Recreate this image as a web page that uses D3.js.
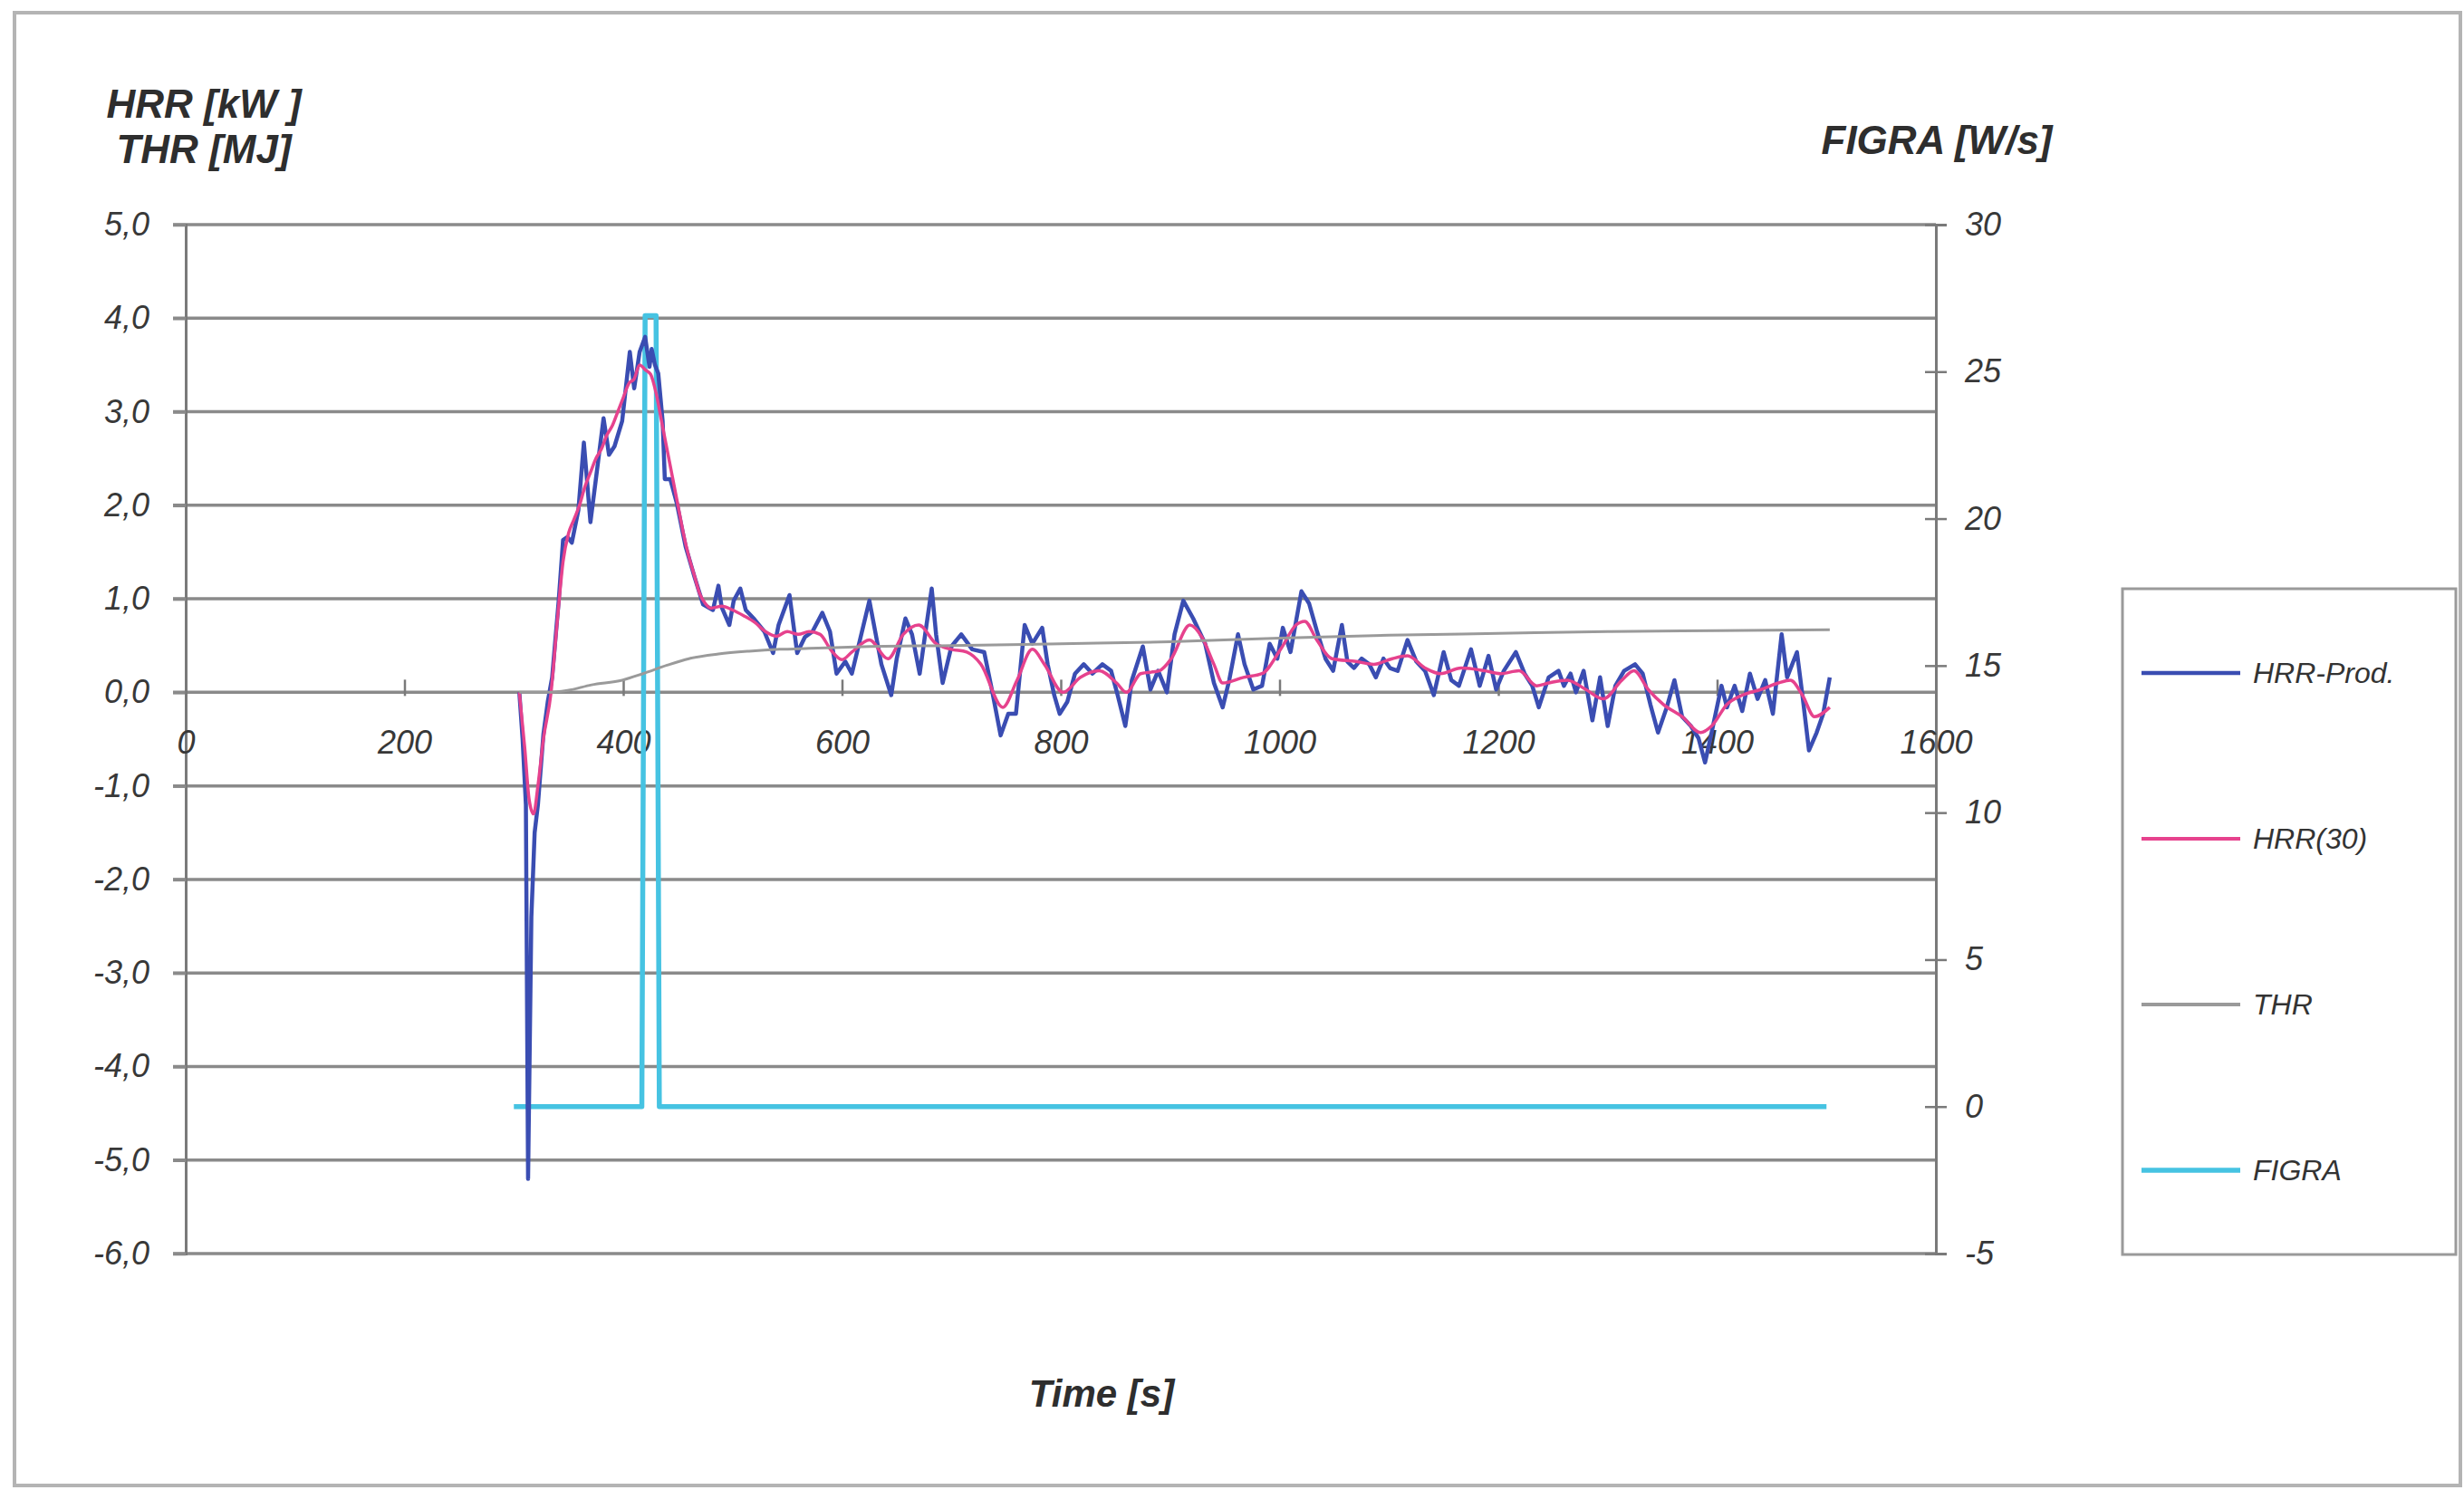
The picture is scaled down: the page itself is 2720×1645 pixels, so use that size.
<!DOCTYPE html>
<html>
<head>
<meta charset="utf-8">
<script src="https://cdn.jsdelivr.net/npm/d3@7"></script>
<style>
  html, body { margin: 0; padding: 0; background: #fff; }
  svg { display: block; }
  text { font-family: "Liberation Sans", Arial, sans-serif; }
</style>
</head>
<body>
<div id="chart"></div>
<script>
// HRR-Prod. [kW] (raw)
const hrrTime = [305, 308, 311, 313, 316, 319, 322, 327, 331, 335, 341, 345, 349, 353, 359, 364, 370, 375, 382, 387,
  392, 399, 406, 410, 415, 420, 424, 426, 429, 432, 436, 438, 443, 449, 457, 465, 473, 482, 487, 490,
  497, 501, 507, 512, 520, 529, 537, 542, 552, 559, 566, 573, 582, 589, 595, 603, 609, 617, 625, 636,
  645, 650, 658, 664, 671, 676, 682, 686, 692, 700, 709, 719, 730, 738, 745, 752, 759, 767, 774, 783,
  788, 794, 799, 806, 813, 821, 829, 838, 846, 852, 859, 865, 875, 882, 889, 897, 904, 912, 921, 932,
  940, 948, 954, 962, 968, 976, 984, 991, 998, 1003, 1010, 1020, 1027, 1034, 1042, 1049, 1057, 1062, 1068, 1075,
  1082, 1088, 1095, 1101, 1108, 1117, 1125, 1133, 1141, 1150, 1157, 1164, 1175, 1183, 1191, 1198, 1205, 1216, 1224, 1231,
  1237, 1246, 1255, 1260, 1266, 1271, 1278, 1286, 1293, 1300, 1307, 1315, 1325, 1332, 1339, 1346, 1354, 1361, 1368, 1376,
  1383, 1389, 1395, 1404, 1409, 1416, 1423, 1430, 1437, 1444, 1451, 1459, 1464, 1473, 1478, 1484, 1491, 1497, 1503];
const hrrProd = [0, -0.5, -1.2, -5.2, -2.4, -1.5, -1.2, -0.45, -0.1, 0.16, 0.98, 1.63, 1.66, 1.6, 1.95, 2.67, 1.82, 2.28, 2.93, 2.54,
  2.63, 2.9, 3.64, 3.25, 3.64, 3.8, 3.48, 3.67, 3.5, 3.41, 2.9, 2.28, 2.28, 2.02, 1.56, 1.24, 0.94, 0.88, 1.14, 0.91,
  0.72, 0.98, 1.11, 0.88, 0.78, 0.65, 0.42, 0.72, 1.04, 0.42, 0.59, 0.65, 0.85, 0.65, 0.2, 0.33, 0.2, 0.59, 0.98, 0.3,
  -0.03, 0.36, 0.79, 0.62, 0.2, 0.62, 1.11, 0.62, 0.1, 0.49, 0.62, 0.46, 0.43, -0.03, -0.46, -0.23, -0.23, 0.72, 0.52, 0.69,
  0.3, -0.03, -0.23, -0.1, 0.2, 0.3, 0.2, 0.3, 0.23, -0.03, -0.36, 0.13, 0.49, 0.03, 0.23, 0, 0.62, 0.98, 0.79, 0.52,
  0.1, -0.16, 0.13, 0.62, 0.3, 0.03, 0.07, 0.52, 0.36, 0.69, 0.43, 1.08, 0.95, 0.66, 0.36, 0.23, 0.72, 0.33, 0.26, 0.36,
  0.3, 0.16, 0.36, 0.26, 0.23, 0.56, 0.33, 0.23, -0.03, 0.43, 0.13, 0.07, 0.46, 0.07, 0.39, 0.03, 0.23, 0.43, 0.2, 0.07,
  -0.16, 0.16, 0.23, 0.07, 0.2, 0, 0.23, -0.3, 0.16, -0.36, 0.07, 0.23, 0.3, 0.2, -0.13, -0.43, -0.16, 0.13, -0.26, -0.36,
  -0.49, -0.75, -0.43, 0.07, -0.16, 0.07, -0.2, 0.2, -0.07, 0.13, -0.23, 0.62, 0.16, 0.43, -0.03, -0.62, -0.43, -0.23, 0.16];

// HRR(30) [kW] (smoothed)
const hrr30Time = [305, 310, 314, 318, 322, 327, 334, 340, 345, 350, 355, 360, 365, 370, 375, 380, 385, 390, 395, 400,
  405, 410, 415, 420, 425, 430, 435, 440, 445, 450, 455, 460, 465, 470, 475, 480, 490, 500, 510, 520,
  530, 540, 550, 560, 570, 580, 590, 600, 609, 625, 642, 656, 670, 686, 700, 714, 727, 747, 760, 774,
  785, 802, 818, 835, 851, 860, 873, 890, 901, 918, 929, 940, 948, 967, 984, 1001, 1015, 1023, 1034, 1048,
  1070, 1086, 1103, 1117, 1133, 1147, 1166, 1188, 1202, 1219, 1235, 1246, 1263, 1280, 1296, 1313, 1324, 1337, 1351, 1368,
  1385, 1395, 1409, 1423, 1440, 1456, 1467, 1478, 1489, 1503];
const hrr30 = [0, -0.6, -1.15, -1.3, -1.0, -0.5, 0, 0.8, 1.4, 1.7, 1.85, 2.0, 2.2, 2.35, 2.5, 2.6, 2.75, 2.85, 3.0, 3.15,
  3.3, 3.35, 3.5, 3.45, 3.4, 3.2, 2.9, 2.6, 2.3, 2.0, 1.7, 1.45, 1.25, 1.05, 0.95, 0.9, 0.92, 0.88, 0.82, 0.75,
  0.65, 0.6, 0.65, 0.62, 0.65, 0.62, 0.45, 0.35, 0.43, 0.56, 0.36, 0.62, 0.72, 0.52, 0.46, 0.43, 0.3, -0.16, 0.13, 0.46,
  0.3, 0, 0.16, 0.23, 0.1, 0, 0.2, 0.23, 0.36, 0.72, 0.59, 0.3, 0.1, 0.16, 0.2, 0.46, 0.72, 0.76, 0.56, 0.36,
  0.33, 0.3, 0.36, 0.39, 0.26, 0.2, 0.26, 0.23, 0.2, 0.23, 0.07, 0.1, 0.13, 0.03, -0.07, 0.13, 0.23, 0.03, -0.13, -0.26,
  -0.43, -0.36, -0.13, -0.03, 0.03, 0.1, 0.13, -0.03, -0.26, -0.16];

// THR [MJ]
const thrTime = [305, 330, 349, 371, 399, 418, 440, 460, 487, 515, 543, 570, 625, 700, 800, 900, 1000, 1100, 1200, 1300, 1400, 1503];
const thr = [0, 0, 0.02, 0.08, 0.13, 0.2, 0.29, 0.36, 0.41, 0.44, 0.46, 0.47, 0.49, 0.5, 0.52, 0.54, 0.58, 0.61, 0.63, 0.65, 0.66, 0.67];

// FIGRA [W/s] (right axis)
const figraTime = [300, 417, 420, 430, 433, 1500];
const figra = [0, 0, 26.9, 26.9, 0, 0];

const xTicks = [0, 200, 400, 600, 800, 1000, 1200, 1400, 1600];
const leftTicks = [-6, -5, -4, -3, -2, -1, 0, 1, 2, 3, 4, 5];
const rightTicks = [-5, 0, 5, 10, 15, 20, 25, 30];

const seriesNames = ['HRR-Prod.', 'HRR(30)', 'THR', 'FIGRA'];
const seriesColors = ['#3a4db2', '#e6428d', '#9a9a9a', '#46c3e2'];
const seriesWidths = [4.5, 3.5, 3, 5.5];

const W = 2720, H = 1645;
const plot = { left: 205, right: 2137, top: 248, bottom: 1384 };

const svg = d3.select('#chart').append('svg')
  .attr('width', W).attr('height', H);

svg.append('rect')
  .attr('x', 16).attr('y', 14)
  .attr('width', 2700).attr('height', 1626)
  .style('fill', '#fff').style('stroke', '#b4b4b4').style('stroke-width', 4);

const x = d3.scaleLinear().domain([0, 1600]).range([plot.left, plot.right]);
const yL = d3.scaleLinear().domain([-6, 5]).range([plot.bottom, plot.top]);
const yR = d3.scaleLinear().domain([-5, 30]).range([plot.bottom, plot.top]);

const comma = d3.formatLocale({ decimal: ',', thousands: '.', grouping: [3], currency: ['', ''], minus: '-' });
const fmtLeft = comma.format('.1f');
const fmtInt = comma.format('d');

const tickFont = '36px';
const tickColor = '#383838';

// gridlines
svg.append('g').selectAll('line')
  .data(leftTicks)
  .join('line')
  .attr('x1', plot.left - 14).attr('x2', plot.right)
  .attr('y1', (d) => yL(d)).attr('y2', (d) => yL(d))
  .style('stroke', '#8a8a8a').style('stroke-width', 3.5);

// left axis
const leftAxis = svg.append('g')
  .attr('transform', `translate(${plot.left},0)`)
  .call(d3.axisLeft(yL).tickValues(leftTicks).tickFormat(fmtLeft).tickSize(14).tickPadding(26));
leftAxis.select('.domain').style('stroke', '#7a7a7a').style('stroke-width', 3);
leftAxis.selectAll('.tick line').style('stroke', '#8a8a8a').style('stroke-width', 3.5);
leftAxis.selectAll('.tick text')
  .style('font-size', tickFont).style('font-style', 'italic').style('fill', tickColor);

// right axis
const rightAxis = svg.append('g')
  .attr('transform', `translate(${plot.right},0)`)
  .call(d3.axisRight(yR).tickValues(rightTicks).tickFormat(fmtInt).tickSize(12).tickPadding(20));
rightAxis.select('.domain').style('stroke', '#7a7a7a').style('stroke-width', 3);
rightAxis.selectAll('.tick line').attr('x1', -12).style('stroke', '#7a7a7a').style('stroke-width', 2.5);
rightAxis.selectAll('.tick text')
  .style('font-size', tickFont).style('font-style', 'italic').style('fill', tickColor);

// x axis along the zero line
const xAxis = svg.append('g')
  .attr('transform', `translate(0,${yL(0)})`)
  .call(d3.axisBottom(x).tickValues(xTicks).tickFormat(fmtInt).tickSizeInner(-14).tickSizeOuter(0).tickPadding(42));
xAxis.select('.domain').remove();
xAxis.selectAll('.tick line').attr('y1', 4).style('stroke', '#7a7a7a').style('stroke-width', 2.5);
xAxis.selectAll('.tick text')
  .style('font-size', tickFont).style('font-style', 'italic').style('fill', tickColor);

// series
const lineL = d3.line().x((d) => x(d[0])).y((d) => yL(d[1]));
const lineR = d3.line().x((d) => x(d[0])).y((d) => yR(d[1]));

const figraPts = figraTime.map((t, i) => [t, figra[i]]);
const hrrPts = hrrTime.map((t, i) => [t, hrrProd[i]]);
const hrr30Pts = hrr30Time.map((t, i) => [t, hrr30[i]]);
const thrPts = thrTime.map((t, i) => [t, thr[i]]);

const marks = svg.append('g').attr('class', 'marks');

marks.append('path').datum(figraPts)
  .attr('d', lineR)
  .style('fill', 'none').style('stroke', seriesColors[3]).style('stroke-width', seriesWidths[3])
  .style('stroke-linejoin', 'round');

marks.append('path').datum(hrrPts)
  .attr('d', lineL)
  .style('fill', 'none').style('stroke', seriesColors[0]).style('stroke-width', seriesWidths[0])
  .style('stroke-linejoin', 'round');

marks.append('path').datum(hrr30Pts)
  .attr('d', d3.line().x((d) => x(d[0])).y((d) => yL(d[1])).curve(d3.curveMonotoneX))
  .style('fill', 'none').style('stroke', seriesColors[1]).style('stroke-width', seriesWidths[1])
  .style('stroke-linejoin', 'round');

marks.append('path').datum(thrPts)
  .attr('d', d3.line().x((d) => x(d[0])).y((d) => yL(d[1])).curve(d3.curveMonotoneX))
  .style('fill', 'none').style('stroke', seriesColors[2]).style('stroke-width', seriesWidths[2]);

// axis titles
const titleStyle = (sel) => sel
  .style('font-size', '44px').style('font-weight', 'bold').style('font-style', 'italic')
  .style('fill', '#2e2e2e').attr('text-anchor', 'middle');

svg.append('text').attr('x', 225).attr('y', 130).text('HRR [kW ]').call(titleStyle);
svg.append('text').attr('x', 225).attr('y', 180).text('THR [MJ]').call(titleStyle);
svg.append('text').attr('x', 2138).attr('y', 170).text('FIGRA [W/s]').call(titleStyle);
svg.append('text').attr('x', 1216).attr('y', 1553).text('Time [s]').call(titleStyle)
  .style('font-size', '42px');

// legend
const legend = svg.append('g').attr('transform', 'translate(2343,650)');
legend.append('rect')
  .attr('width', 368).attr('height', 735)
  .style('fill', '#fff').style('stroke', '#9a9a9a').style('stroke-width', 3);

const legendY = d3.scalePoint().domain(seriesNames).range([93, 642]);
const items = legend.selectAll('.item')
  .data(seriesNames)
  .join('g')
  .attr('class', 'item')
  .attr('transform', (d) => `translate(0,${legendY(d)})`);

items.append('line')
  .attr('x1', 21).attr('x2', 130)
  .style('stroke', (d, i) => seriesColors[i])
  .style('stroke-width', (d, i) => Math.max(4, seriesWidths[i]));

items.append('text')
  .attr('x', 144).attr('y', 11)
  .style('font-size', '32px').style('font-style', 'italic').style('fill', '#333')
  .text((d) => d);
</script>
</body>
</html>
